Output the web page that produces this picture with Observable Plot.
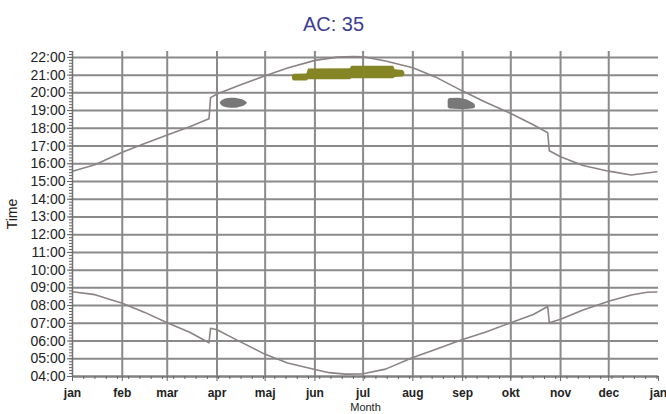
<!DOCTYPE html>
<html>
<head>
<meta charset="utf-8">
<script src="https://cdn.jsdelivr.net/npm/d3@7"></script>
<script src="https://cdn.jsdelivr.net/npm/@observablehq/plot@0.6"></script>
<style>
  html, body { margin: 0; padding: 0; background: #fff; }
  #chart { width: 666px; height: 414px; }
</style>
</head>
<body>
<div id="chart"></div>
<script>
// ---------- data ----------
const title = "AC: 35";
const xLabel = "Month";
const yLabel = "Time";
const monthLabels = ["jan","feb","mar","apr","maj","jun","jul","aug","sep","okt","nov","dec","jan"];
const monthStarts = ["2010-01-01","2010-02-01","2010-03-01","2010-04-01","2010-05-01","2010-06-01",
  "2010-07-01","2010-08-01","2010-09-01","2010-10-01","2010-11-01","2010-12-01","2011-01-01"];
const hourTicks = [4,5,6,7,8,9,10,11,12,13,14,15,16,17,18,19,20,21,22];

// sunset (upper curve)
const sunsetDates = ["2010-01-01","2010-01-15","2010-02-01","2010-02-15","2010-03-01","2010-03-15",
  "2010-03-27","2010-03-28","2010-04-01","2010-04-15","2010-05-01","2010-05-15","2010-06-01",
  "2010-06-15","2010-06-25","2010-07-01","2010-07-15","2010-08-01","2010-08-15","2010-09-01",
  "2010-09-15","2010-10-01","2010-10-15","2010-10-24","2010-10-25","2010-11-01","2010-11-15",
  "2010-12-01","2010-12-15","2010-12-31"];
const sunsetTimes = ["15:35","15:57","16:39","17:09","17:37","18:05",
  "18:32","19:44","19:56","20:26","20:58","21:24","21:50",
  "22:01","22:03","22:02","21:48","21:25","20:54","20:06",
  "19:29","18:50","18:12","17:45","16:44","16:24","15:54",
  "15:35","15:22","15:33"];

// sunrise (lower curve)
const sunriseDates = ["2010-01-01","2010-01-15","2010-02-01","2010-02-15","2010-03-01","2010-03-15",
  "2010-03-27","2010-03-28","2010-04-01","2010-04-15","2010-05-01","2010-05-15","2010-06-01",
  "2010-06-10","2010-06-20","2010-07-01","2010-07-15","2010-08-01","2010-08-15","2010-09-01",
  "2010-09-15","2010-10-01","2010-10-15","2010-10-24","2010-10-25","2010-11-01","2010-11-15",
  "2010-12-01","2010-12-15","2010-12-25","2010-12-31"];
const sunriseTimes = ["08:47","08:37","08:08","07:37","07:02","06:30",
  "05:54","06:43","06:38","05:59","05:15","04:46","04:24",
  "04:13","04:08","04:09","04:25","05:04","05:31","06:05",
  "06:30","07:02","07:30","07:57","07:02","07:14","07:45",
  "08:15","08:36","08:45","08:46"];

// activity clusters
const oliveDates = ["2010-05-18","2010-05-19","2010-05-27","2010-05-28","2010-06-23","2010-06-24","2010-07-20","2010-07-21","2010-07-26","2010-07-27"];
const oliveLow   = ["20:45","20:40","20:40","20:44","20:44","20:48","20:48","20:52","20:54","20:58"];
const oliveHigh  = ["20:58","21:03","21:04","21:21","21:22","21:30","21:30","21:18","21:16","21:08"];

const aprDates = ["2010-04-03","2010-04-04","2010-04-06","2010-04-08","2010-04-11","2010-04-14","2010-04-17","2010-04-19","2010-04-20"];
const aprLow   = ["19:25","19:16","19:11","19:09","19:07","19:09","19:12","19:19","19:25"];
const aprHigh  = ["19:25","19:34","19:39","19:41","19:42","19:41","19:37","19:31","19:25"];

const sepDates = ["2010-08-23","2010-08-24","2010-08-30","2010-09-04","2010-09-08","2010-09-09"];
const sepLow   = ["19:10","19:05","19:04","19:04","19:06","19:10"];
const sepHigh  = ["19:36","19:41","19:42","19:36","19:24","19:17"];

// ---------- helpers ----------
const parseDate = d3.utcParse("%Y-%m-%d");
const toHours = s => { const [h, m] = s.split(":").map(Number); return h + m / 60; };
const series = (ds, ts) => ds.map((d, i) => ({date: parseDate(d), t: toHours(ts[i])}));
const band = (ds, lo, hi) => ds.map((d, i) => ({date: parseDate(d), lo: toHours(lo[i]), hi: toHours(hi[i])}));

const sunset = series(sunsetDates, sunsetTimes);
const sunrise = series(sunriseDates, sunriseTimes);
const olive = band(oliveDates, oliveLow, oliveHigh);
const aprBlob = band(aprDates, aprLow, aprHigh);
const sepBlob = band(sepDates, sepLow, sepHigh);

const months = monthStarts.map(parseDate);
const start = months[0], end = months[months.length - 1];
const weekTicks = d3.range(7, 365, 7).map(k => d3.utcDay.offset(start, k));
const minorY = d3.range(4 * 6, 22 * 6 + 3).map(k => k / 6);
const fmtHour = h => String(h).padStart(2, "0") + ":00";
const fmtMonth = d => monthLabels[d.getUTCMonth() + (d.getUTCFullYear() > 2010 ? 12 : 0)];

const gridColor = "#8a8a8a";
const curveColor = "#8c8383";

const chart = Plot.plot({
  width: 666,
  height: 414,
  marginLeft: 72,
  marginRight: 8,
  marginTop: 51,
  marginBottom: 38,
  style: {fontFamily: "'Liberation Sans', Arial, sans-serif", color: "#222", background: "#fff"},
  x: {type: "utc", domain: [start, end]},
  y: {domain: [4, 22 + 1/3]},
  marks: [
    Plot.ruleY(hourTicks, {stroke: gridColor, strokeWidth: 2}),
    Plot.ruleX(months.slice(1, 12), {stroke: gridColor, strokeWidth: 2}),
    Plot.areaY(olive, {x: "date", y1: "lo", y2: "hi", fill: "#858526"}),
    Plot.areaY(aprBlob, {x: "date", y1: "lo", y2: "hi", fill: "#787878", curve: "basis"}),
    Plot.areaY(sepBlob, {x: "date", y1: "lo", y2: "hi", fill: "#787878"}),
    Plot.line(sunset, {x: "date", y: "t", stroke: curveColor, strokeWidth: 1.6}),
    Plot.line(sunrise, {x: "date", y: "t", stroke: curveColor, strokeWidth: 1.6}),
    Plot.ruleX([start], {stroke: "#707070", strokeWidth: 1.5}),
    Plot.ruleY([4], {stroke: "#808080", strokeWidth: 2}),
    Plot.axisY({ticks: minorY, tickSize: 3, tickFormat: () => "", label: null, stroke: "#666"}),
    Plot.axisY({ticks: hourTicks, tickSize: 5, tickPadding: 2, tickFormat: fmtHour, label: null,
      fontSize: 14, fill: "#222", stroke: "#666"}),
    Plot.axisX({ticks: weekTicks, tickSize: 3, tickFormat: () => "", label: null, stroke: "#666"}),
    Plot.axisX({ticks: months, tickSize: 5, tickPadding: 7, tickFormat: fmtMonth, label: null,
      fontSize: 12, fontWeight: "bold", fill: "#222", stroke: "#666"}),
    Plot.text([title], {text: d => d, frameAnchor: "top", dx: -32, dy: -27, lineAnchor: "middle",
      textAnchor: "middle", fontSize: 20, fill: "#3d3d8f"}),
    Plot.text([yLabel], {text: d => d, frameAnchor: "left", dx: -60, rotate: -90, lineAnchor: "middle",
      textAnchor: "middle", fontSize: 14, fill: "#222"}),
    Plot.text([xLabel], {text: d => d, frameAnchor: "bottom", dy: 31, lineAnchor: "middle",
      textAnchor: "middle", fontSize: 11, fill: "#222"})
  ]
});
document.getElementById("chart").appendChild(chart);
</script>
</body>
</html>
